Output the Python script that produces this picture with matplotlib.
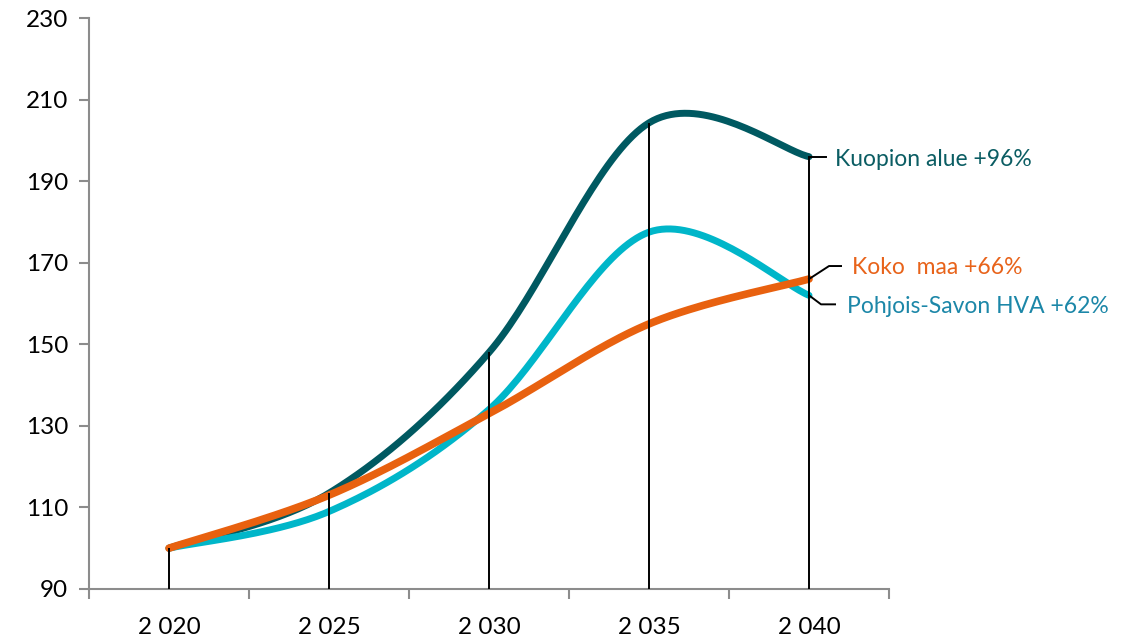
import numpy as np
import matplotlib.pyplot as plt
import matplotlib.transforms as mtransforms

years = ['2 020', '2 025', '2 030', '2 035', '2 040']
kuopio = [100, 113.5, 148, 204.3, 196]
pohjois_savo = [100, 109, 134, 177.5, 162]
koko_maa = [100, 113, 133, 155, 166]

labels = ['Kuopion alue +96%', 'Pohjois-Savon HVA +62%', 'Koko  maa +66%']
line_colors = ['#005961', '#00B6C9', '#E8610F']
text_colors = ['#0B5D63', '#1C87A8', '#E8631A']

plt.rcParams['font.family'] = ['Lato', 'DejaVu Sans']


def smooth(xs, ys, n=40):
    # Catmull-Rom style bezier, like the smoothed line in Excel
    pts = np.column_stack([xs, ys]).astype(float)
    ext = np.vstack([pts[0], pts, pts[-1]])
    out = []
    t = np.linspace(0, 1, n)[:, None]
    for i in range(len(pts) - 1):
        p0, p1, p2, p3 = ext[i], ext[i + 1], ext[i + 2], ext[i + 3]
        c1 = p1 + (p2 - p0) / 6
        c2 = p2 - (p3 - p1) / 6
        seg = ((1 - t) ** 3) * p1 + 3 * ((1 - t) ** 2) * t * c1 + 3 * (1 - t) * t ** 2 * c2 + t ** 3 * p2
        out.append(seg if i == 0 else seg[1:])
    out = np.vstack(out)
    return out[:, 0], out[:, 1]


fig = plt.figure(figsize=(11.37, 6.37), dpi=100)
ax = fig.add_axes([0.0783, 0.0754, 0.7036, 0.8963])

x = np.arange(len(years))
series = [kuopio, pohjois_savo, koko_maa]
widths = [5, 5, 5.5]
for vals, c, lw, z in zip(series, line_colors, widths, [2, 3, 4]):
    sx, sy = smooth(x, vals)
    ax.plot(sx, sy, color=c, lw=lw, solid_capstyle='round', zorder=z)

# drop lines
tops = np.max(np.array(series), axis=0)
ax.vlines(x, 90, tops, color='black', lw=1.4, zorder=6)

ax.set_xlim(-0.5, len(years) - 0.5)
ax.set_ylim(90, 230)
ax.set_yticks(range(90, 231, 20))
ax.set_xticks(x)
ax.set_xticklabels(years)
ax.set_xticks(np.arange(-0.5, len(years)), minor=True)
ax.tick_params(axis='x', which='major', length=0, pad=20, labelsize=17.5)
ax.tick_params(axis='x', which='minor', length=7, width=1.5, color='#8C8C8C')
ax.tick_params(axis='y', length=7, width=1.5, color='#8C8C8C', labelsize=17.5, pad=8)
for s in ['top', 'right']:
    ax.spines[s].set_visible(False)
for s in ['left', 'bottom']:
    ax.spines[s].set_color('#8C8C8C')
    ax.spines[s].set_linewidth(1.5)

# labels with leader lines (offsets in pixels)
leaders = [[(0, 0), (17, 0)], [(0, 0), (12, -9), (26, -9)], [(0, 0), (20, 13), (32, 13)]]
text_off = [(26, -3), (38, -11), (43, 12)]
last = len(years) - 1
for vals, lab, tc, lead, (tx, ty) in zip(series, labels, text_colors, leaders, text_off):
    tr = fig.dpi_scale_trans + mtransforms.ScaledTranslation(last, vals[-1], ax.transData)
    lx = [p[0] / 100 for p in lead]
    ly = [p[1] / 100 for p in lead]
    ax.plot(lx, ly, color='black', lw=1.4, transform=tr, clip_on=False, zorder=7)
    ax.annotate(lab, xy=(last, vals[-1]), xytext=(tx * 0.72, ty * 0.72), textcoords='offset points',
                color=tc, fontsize=16.5, ha='left', va='center', annotation_clip=False)

fig.savefig('out.png', dpi=100)
